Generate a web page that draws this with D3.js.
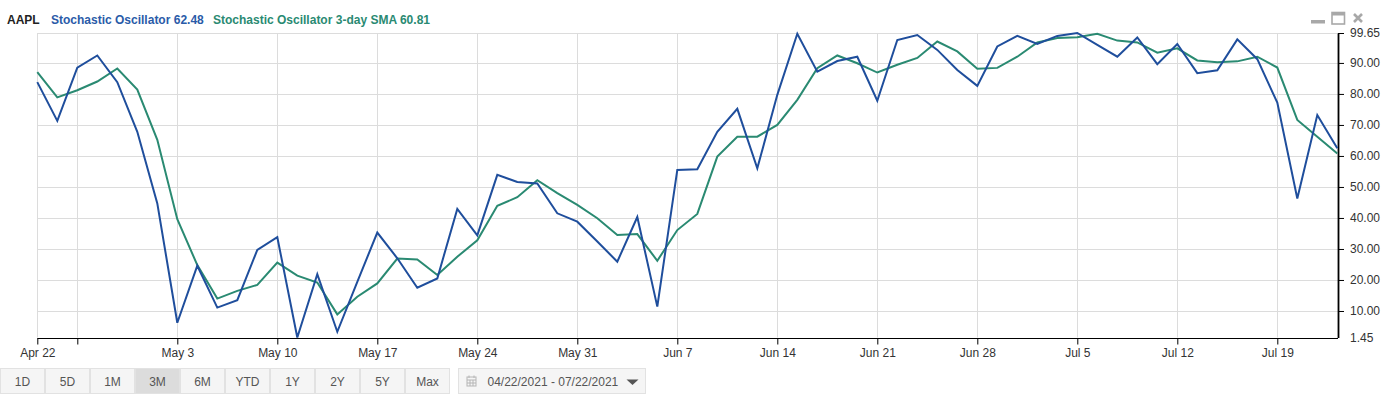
<!DOCTYPE html>
<html>
<head>
<meta charset="utf-8">
<script src="https://cdn.jsdelivr.net/npm/d3@7"></script>
<style>
  body { margin: 0; background: #fff; font-family: "Liberation Sans", Arial, sans-serif; }
  text { font-family: "Liberation Sans", Arial, sans-serif; }
</style>
</head>
<body>
<div id="chart"></div>
<script>
// trading days shown on the axis (weekdays)
const dates = [
    "2021-04-22","2021-04-23","2021-04-26","2021-04-27","2021-04-28","2021-04-29","2021-04-30",
    "2021-05-03","2021-05-04","2021-05-05","2021-05-06","2021-05-07",
    "2021-05-10","2021-05-11","2021-05-12","2021-05-13","2021-05-14",
    "2021-05-17","2021-05-18","2021-05-19","2021-05-20","2021-05-21",
    "2021-05-24","2021-05-25","2021-05-26","2021-05-27","2021-05-28",
    "2021-05-31","2021-06-01","2021-06-02","2021-06-03","2021-06-04",
    "2021-06-07","2021-06-08","2021-06-09","2021-06-10","2021-06-11",
    "2021-06-14","2021-06-15","2021-06-16","2021-06-17","2021-06-18",
    "2021-06-21","2021-06-22","2021-06-23","2021-06-24","2021-06-25",
    "2021-06-28","2021-06-29","2021-06-30","2021-07-01","2021-07-02",
    "2021-07-05","2021-07-06","2021-07-07","2021-07-08","2021-07-09",
    "2021-07-12","2021-07-13","2021-07-14","2021-07-15","2021-07-16",
    "2021-07-19","2021-07-20","2021-07-21","2021-07-22"
];

const stochastic = [
    83.8, 71.3, 88.5, 92.4, 83.8, 67.8, 44.7,
    6.2, 24.6, 11.1, 13.5, 29.7,
    33.8, 1.45, 21.9, 3.3, 19.4,
    35.3, 27.0, 17.5, 20.5, 42.9,
    34.4, 53.9, 51.6, 51.1, 41.5,
    38.8, 32.4, 25.9, 40.3, 11.4,
    55.5, 55.7, 67.8, 75.2, 56.0,
    79.7, 99.4, 87.2, 90.6, 92.0,
    77.8, 97.4, 99.0, 94.2, 87.7,
    82.6, 95.3, 98.7, 96.1, 98.7,
    99.65, 95.8, 92.0, 98.2, 89.6,
    96.1, 86.7, 87.6, 97.6, 91.2,
    77.2, 46.3, 73.2, 62.48
];

const sma3 = [
    87.0, 78.9, 81.2, 84.0, 88.2, 81.4, 65.2,
    39.6, 24.8, 14.0, 16.5, 18.4,
    25.6, 21.4, 19.2, 8.9, 14.6,
    18.9, 26.9, 26.6, 21.6, 27.5,
    32.8, 43.9, 46.7, 52.2, 48.0,
    44.2, 39.9, 34.5, 34.8, 26.2,
    36.1, 41.3, 59.8, 66.2, 66.2,
    70.0, 78.1, 88.3, 92.4, 89.9,
    86.9, 89.4, 91.6, 96.9, 93.7,
    88.1, 88.4, 92.0, 96.6, 98.0,
    98.3, 99.4, 97.2, 96.6, 93.3,
    94.7, 90.8, 90.2, 90.5, 92.0,
    88.5, 71.6, 66.2, 60.81
];

const tickDates = ["2021-04-22","2021-04-26","2021-05-03","2021-05-10","2021-05-17","2021-05-24",
    "2021-05-31","2021-06-07","2021-06-14","2021-06-21","2021-06-28","2021-07-05","2021-07-12","2021-07-19"];
const tickLabels = ["Apr 22","","May 3","May 10","May 17","May 24",
    "May 31","Jun 7","Jun 14","Jun 21","Jun 28","Jul 5","Jul 12","Jul 19"];
const yTicks = [1.45, 10, 20, 30, 40, 50, 60, 70, 80, 90, 99.65];

const ranges = ["1D","5D","1M","3M","6M","YTD","1Y","2Y","5Y","Max"];
const activeRange = "3M";

const width = 1396, height = 399;
const plotLeft = 37.3, plotRight = 1338, plotTop = 33, plotBottom = 337.5;

const svg = d3.select("#chart").append("svg")
    .attr("width", width)
    .attr("height", height);

const x = d3.scalePoint().domain(dates).range([plotLeft, plotRight - 0.7]);
const y = d3.scaleLinear().domain([1.45, 99.65]).range([plotBottom, plotTop]);

// grid
svg.append("g")
    .selectAll("line")
    .data(yTicks.slice(1))
    .enter()
    .append("line")
    .attr("x1", plotLeft).attr("x2", plotRight)
    .attr("y1", d => Math.round(y(d)) + 0.5)
    .attr("y2", d => Math.round(y(d)) + 0.5)
    .attr("stroke", "#dcdcdc");

svg.append("g")
    .selectAll("line")
    .data(tickDates)
    .enter()
    .append("line")
    .attr("x1", d => Math.round(x(d)) + 0.5)
    .attr("x2", d => Math.round(x(d)) + 0.5)
    .attr("y1", plotTop).attr("y2", plotBottom)
    .attr("stroke", "#dcdcdc");

// x axis
const xAxis = svg.append("g")
    .attr("transform", `translate(0,${Math.round(plotBottom) + 0.5})`)
    .call(d3.axisBottom(x)
        .tickValues(tickDates)
        .tickFormat((d, i) => tickLabels[i])
        .tickSize(6)
        .tickSizeOuter(0));
xAxis.select(".domain").attr("stroke", "#000").attr("d", `M${plotLeft},0H${plotRight}`);
xAxis.selectAll(".tick line").attr("stroke", "#000");
xAxis.selectAll(".tick text")
    .attr("y", 10)
    .attr("font-size", 12)
    .attr("fill", "#333");

// y axis on the right
const yAxis = svg.append("g")
    .attr("transform", `translate(${plotRight},0)`)
    .call(d3.axisRight(y)
        .tickValues(yTicks)
        .tickFormat(d3.format(".2f"))
        .tickSize(6)
        .tickSizeOuter(0));
yAxis.select(".domain").attr("stroke", "#000").attr("stroke-width", 1.8);
yAxis.selectAll(".tick line").attr("stroke", "#000");
yAxis.selectAll(".tick text")
    .attr("x", 12)
    .attr("font-size", 12)
    .attr("fill", "#333");
yAxis.selectAll(".tick").filter(d => d === 1.45).select("line").remove();

// series
const line = d3.line()
    .x((d, i) => x(dates[i]))
    .y(d => y(d));

svg.append("path")
    .datum(sma3)
    .attr("d", line)
    .attr("fill", "none")
    .attr("stroke", "#2a8a72")
    .attr("stroke-width", 2);

svg.append("path")
    .datum(stochastic)
    .attr("d", line)
    .attr("fill", "none")
    .attr("stroke", "#1f4e9c")
    .attr("stroke-width", 2);

// legend
const legend = svg.append("text").attr("y", 24).attr("font-size", 12).attr("font-weight", "bold");
legend.append("tspan").attr("x", 7).attr("fill", "#222").text("AAPL");
legend.append("tspan").attr("x", 51).attr("fill", "#2a5ba8")
    .text("Stochastic Oscillator " + stochastic[stochastic.length - 1].toFixed(2));
legend.append("tspan").attr("x", 213).attr("fill", "#2a8a72")
    .text("Stochastic Oscillator 3-day SMA " + sma3[sma3.length - 1].toFixed(2));

// window icons
const icons = svg.append("g").attr("fill", "#a8a8a8");
icons.append("rect").attr("x", 1311).attr("y", 20).attr("width", 14).attr("height", 3.5);
icons.append("rect").attr("x", 1332).attr("y", 12.5).attr("width", 12.5).attr("height", 11.5)
    .attr("fill", "none").attr("stroke", "#a8a8a8").attr("stroke-width", 1.6);
icons.append("rect").attr("x", 1332).attr("y", 12).attr("width", 12.5).attr("height", 3.5);
icons.append("path")
    .attr("d", "M1354,14L1362,22M1362,14L1354,22")
    .attr("stroke", "#a8a8a8").attr("stroke-width", 2.6);

// range buttons
const btnW = 45, btnY = 368.5, btnH = 25;
const buttons = svg.append("g")
    .selectAll("g")
    .data(ranges)
    .enter()
    .append("g")
    .attr("transform", (d, i) => `translate(${i * btnW},${btnY})`);

buttons.append("rect")
    .attr("x", 0.5).attr("y", 0)
    .attr("width", btnW - 1).attr("height", btnH)
    .attr("fill", d => d === activeRange ? "#dcdcdc" : "#f5f5f5")
    .attr("stroke", "#e2e2e2");

buttons.append("text")
    .attr("x", btnW / 2).attr("y", 17)
    .attr("text-anchor", "middle")
    .attr("font-size", 12)
    .attr("fill", "#555")
    .text(d => d);

// date range box
const box = svg.append("g").attr("transform", `translate(458.5,${btnY})`);
box.append("rect")
    .attr("width", 187).attr("height", btnH)
    .attr("fill", "#f5f5f5").attr("stroke", "#e2e2e2");
const cal = box.append("g").attr("transform", "translate(8,7)").attr("stroke", "#b5b5b5").attr("fill", "none");
cal.append("rect").attr("x", 0.5).attr("y", 1.5).attr("width", 9).attr("height", 9);
cal.append("path").attr("d", "M0.5,4.5H9.5M0.5,7.5H9.5M3.5,4.5V10.5M6.5,4.5V10.5M2.5,0V2.5M7.5,0V2.5");
box.append("text")
    .attr("x", 29).attr("y", 17)
    .attr("font-size", 12)
    .attr("fill", "#555")
    .text("04/22/2021 - 07/22/2021");
box.append("path")
    .attr("d", "M168,11L180,11L174,16.5Z")
    .attr("fill", "#555");
</script>
</body>
</html>
